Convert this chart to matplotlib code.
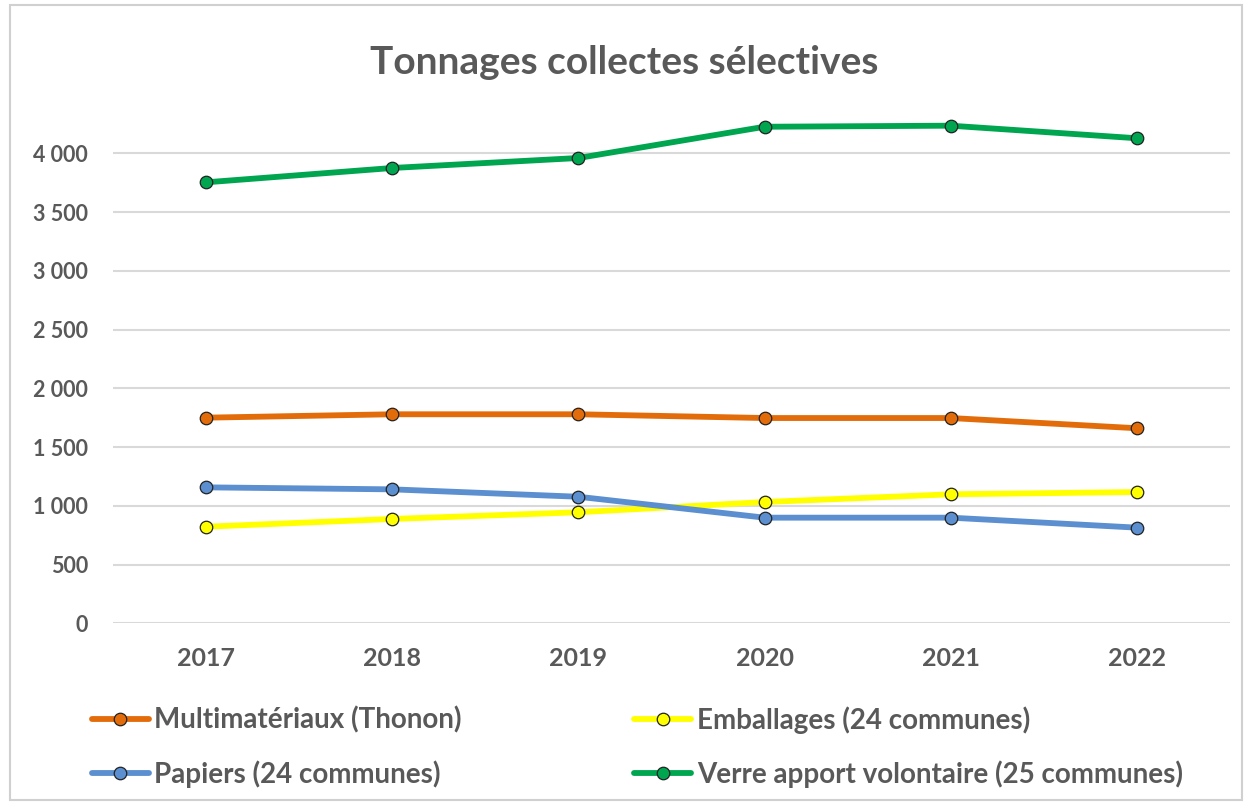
import matplotlib
matplotlib.use("Agg")
import matplotlib.pyplot as plt
from matplotlib.patches import Rectangle

plt.rcParams['font.family'] = ['Lato', 'DejaVu Sans']

years = ["2017", "2018", "2019", "2020", "2021", "2022"]
multimateriaux = [1750, 1779, 1779, 1747, 1747, 1660]
emballages = [822, 888, 945, 1032, 1098, 1117]
papiers = [1157, 1140, 1077, 899, 899, 814]
verre = [3753, 3875, 3960, 4226, 4235, 4128]

series = [
    ("Multimatériaux (Thonon)", multimateriaux, "#E36C0A"),
    ("Emballages (24 communes)", emballages, "#FFFF00"),
    ("Papiers (24 communes)", papiers, "#5B8FD0"),
    ("Verre apport volontaire (25 communes)", verre, "#00A550"),
]
yticks = [0, 500, 1000, 1500, 2000, 2500, 3000, 3500, 4000]
ytick_labels = ["0", "500", "1 000", "1 500", "2 000", "2 500", "3 000", "3 500", "4 000"]

W, H = 1249, 805
fig = plt.figure(figsize=(W / 100, H / 100), dpi=100)
fig.patches.append(Rectangle((10 / W, 5 / H), 1232 / W, 795 / H, transform=fig.transFigure,
                             fill=False, edgecolor="#D0D0D0", linewidth=1.5))

ax = fig.add_axes([113 / W, 1 - 623.3 / H, (1230 - 113) / W, (623.3 - 100) / H])
x = list(range(len(years)))
handles = {}
for name, vals, col in series:
    (ln,) = ax.plot(x, vals, color=col, linewidth=4.2, marker="o", markersize=9,
                    markerfacecolor=col, markeredgecolor="#222222", markeredgewidth=0.9,
                    label=name, solid_capstyle="round")
    handles[name] = ln

ax.set_xlim(-0.5, 5.5)
ax.set_ylim(0, 4000 * (623.3 - 100) / (623.3 - 153.3))
ax.set_yticks(yticks)
ax.set_yticklabels(ytick_labels)
ax.set_xticks(x)
ax.set_xticklabels(years)
ax.grid(axis="y", color="#D9D9D9", linewidth=1.5)
ax.set_axisbelow(True)
for s in ax.spines.values():
    s.set_visible(False)
ax.tick_params(axis="both", length=0)
ax.tick_params(axis="y", labelsize=15.5, labelcolor="#595959", pad=18)
ax.tick_params(axis="x", labelsize=18, labelcolor="#595959", pad=17)
for lab in ax.get_yticklabels() + ax.get_xticklabels():
    lab.set_fontweight("bold")

fig.text(0.5, 1 - 62 / H, "Tonnages collectes sélectives", ha="center", va="center",
         fontsize=28, fontweight="bold", color="#595959")

order = [series[0][0], series[2][0], series[1][0], series[3][0]]
leg = fig.legend([handles[n] for n in order], order, loc="upper left",
                 bbox_to_anchor=(92 / W, 1 - 706 / H), ncol=2,
                 frameon=False, fontsize=20, handlelength=2.05, columnspacing=6.2,
                 labelspacing=0.95, handletextpad=0.2, borderaxespad=0, borderpad=0)
for t in leg.get_texts():
    t.set_fontweight("bold")
    t.set_color("#595959")

fig.savefig("out.png", dpi=100)
